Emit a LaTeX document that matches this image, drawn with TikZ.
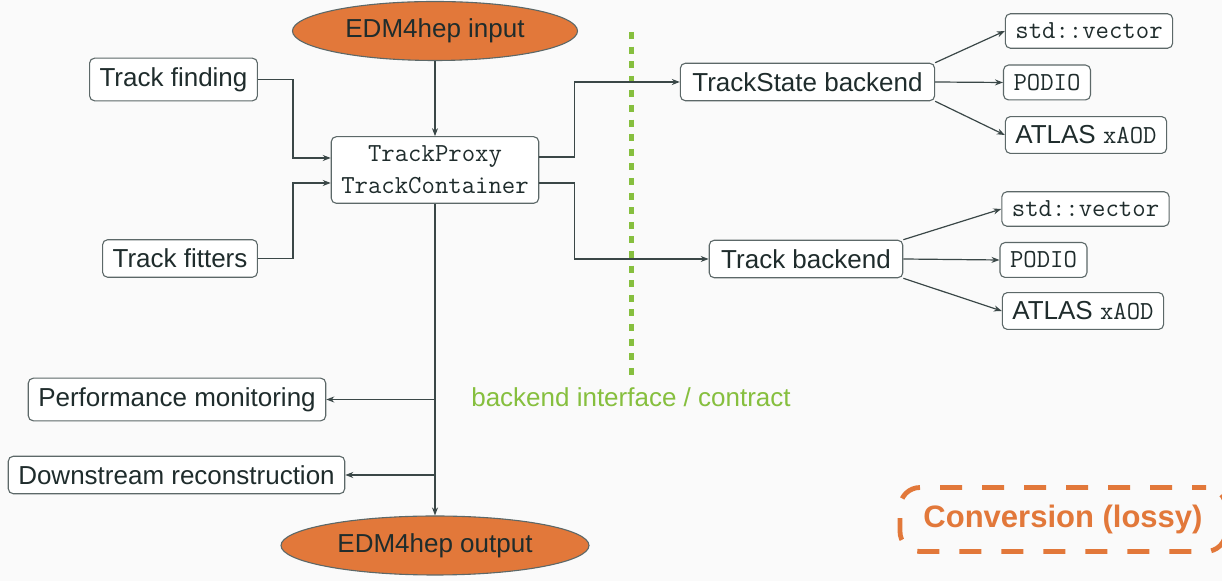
\documentclass[tikz,border=0pt]{standalone}
\usepackage{fontspec}
\setmainfont{Liberation Sans}
\usetikzlibrary{arrows.meta,shapes.geometric}

\definecolor{bgc}{HTML}{FAFAFA}
\definecolor{ink}{HTML}{1F2C2C}
\definecolor{edge}{HTML}{5C6868}
\definecolor{wire}{HTML}{3A4747}
\definecolor{edmorange}{HTML}{E2783A}
\definecolor{ifgreen}{HTML}{86BF3E}

\tikzset{
  every node/.style={text=ink, font=\fontsize{13}{16}\selectfont},
  box/.style={draw=edge, line width=0.55pt, rounded corners=2.5pt, fill=white,
    inner xsep=5pt, inner ysep=4.6pt, align=center},
  tbox/.style={box, font=\fontsize{13}{16}\selectfont\ttfamily},
  edmnode/.style={ellipse, draw=edge, line width=0.55pt, fill=edmorange,
    inner sep=0pt, minimum height=29.5pt},
  arr/.style={draw=wire, line width=0.6pt, -{Stealth[length=4pt,width=3pt]}},
  contract/.style={draw=ifgreen, line width=2.5pt, dash pattern=on 3.5pt off 3.8pt},
  lossy/.style={draw=edmorange, line width=2.4pt, dash pattern=on 11pt off 10pt,
    dash phase=4pt, rounded corners=10pt, minimum width=163pt, minimum height=32pt,
    text=edmorange, font=\fontsize{15.5}{18}\selectfont\bfseries}
}

\begin{document}
\begin{tikzpicture}[x=0.5pt, y=-0.5pt]
  % canvas
  \fill[bgc] (0,0) rectangle (1222,581);
  \useasboundingbox (0,0) rectangle (1222,581);

  % input / output of the chain
  \node[edmnode, minimum width=142.5pt] (in) at (435,31) {EDM4hep input};
  \node[edmnode, minimum width=154pt] (out) at (435,545.5) {EDM4hep output};

  % central container
  \node[tbox] (tp) at (435,170) {TrackProxy\\TrackContainer};

  % producers
  \node[box] (tfind) at (173.5,79.5) {Track finding};
  \node[box] (tfit) at (180,258.5) {Track fitters};

  % consumers
  \node[box] (perf) at (177,399.5) {Performance monitoring};
  \node[box] (down) at (176.5,475) {Downstream reconstruction};

  % backends
  \node[box, inner xsep=6pt] (tsb) at (807.5,82) {TrackState backend};
  \node[box, inner xsep=6pt] (tb) at (806,259) {Track backend};

  \node[tbox] (sv1) at (1089,31) {std::vector};
  \node[tbox] (po1) at (1047,82.5) {PODIO};
  \node[box] (ax1) at (1086,135) {ATLAS \texttt{xAOD}};

  \node[tbox] (sv2) at (1085.5,209) {std::vector};
  \node[tbox] (po2) at (1043.5,260) {PODIO};
  \node[box] (ax2) at (1083,311) {ATLAS \texttt{xAOD}};

  % backend interface boundary
  \coordinate (ctop) at (631,32);
  \coordinate (cbot) at (631,375);
  \draw[contract] (ctop) -- (cbot);
  \node[text=ifgreen] (ctext) at (631,397) {backend interface / contract};

  % legend
  \node[lossy] (conv) at (1063,519.5) {Conversion (lossy)};

  % connectors
  \draw[arr] (in.south) -- (tp.north);
  \draw[arr] (tfind.east) -- ++(35,0) |- ([yshift=6pt]tp.west);
  \draw[arr] (tfit.east) -- ++(35,0) |- ([yshift=-6.5pt]tp.west);
  \draw[arr] ([yshift=6.5pt]tp.east) -- ++(35,0) |- (tsb.west);
  \draw[arr] ([yshift=-6.5pt]tp.east) -- ++(35,0) |- (tb.west);
  \draw[arr] (tp.south) -- (out.north);
  \draw[arr] (tp.south |- perf.east) -- (perf.east);
  \draw[arr] (tp.south |- down.east) -- (down.east);

  \draw[arr] (tsb.north east) -- (sv1.west);
  \draw[arr] (tsb.east) -- (po1.west);
  \draw[arr] (tsb.south east) -- (ax1.west);
  \draw[arr] (tb.north east) -- (sv2.west);
  \draw[arr] (tb.east) -- (po2.west);
  \draw[arr] (tb.south east) -- (ax2.west);
\end{tikzpicture}
\end{document}
